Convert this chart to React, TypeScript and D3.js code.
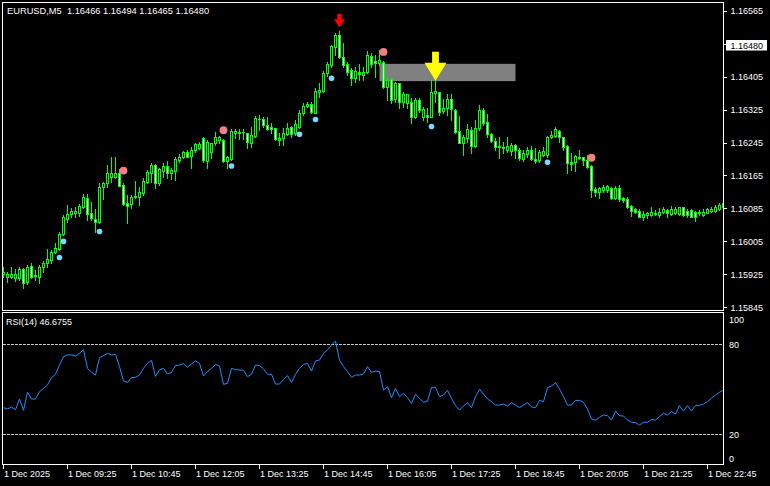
import React from 'react';
import * as d3 from 'd3';

const W = 770;
const H = 486;

const openP = [
1.15926,1.15918,1.15918,1.15915,1.15915,1.15937,1.15906,1.15945,1.15923,1.15919,
1.15943,1.15953,1.15960,1.15980,1.15986,1.16023,1.16060,1.16071,1.16073,1.16073,
1.16089,1.16111,1.16073,1.16059,1.16053,1.16138,1.16146,1.16162,1.16162,1.16170,
1.16142,1.16097,1.16095,1.16113,1.16113,1.16123,1.16150,1.16172,1.16190,1.16146,
1.16176,1.16188,1.16170,1.16177,1.16203,1.16209,1.16221,1.16213,1.16227,1.16232,
1.16257,1.16200,1.16223,1.16243,1.16251,1.16251,1.16201,1.16204,1.16267,1.16270,
1.16270,1.16267,1.16245,1.16262,1.16302,1.16302,1.16288,1.16282,1.16280,1.16251,
1.16255,1.16265,1.16282,1.16267,1.16283,1.16316,1.16334,1.16338,1.16317,1.16368,
1.16371,1.16413,1.16433,1.16478,1.16506,1.16453,1.16436,1.16421,1.16401,1.16417,
1.16409,1.16417,1.16455,1.16444,1.16439,1.16441,1.16379,1.16398,1.16350,1.16389,
1.16344,1.16342,1.16344,1.16308,1.16348,1.16308,1.16312,1.16308,1.16366,1.16367,
1.16322,1.16330,1.16350,1.16324,1.16273,1.16245,1.16255,1.16275,1.16236,1.16280,
1.16324,1.16294,1.16266,1.16249,1.16236,1.16231,1.16227,1.16225,1.16239,1.16227,
1.16205,1.16217,1.16228,1.16204,1.16203,1.16215,1.16215,1.16259,1.16261,1.16273,
1.16258,1.16236,1.16198,1.16198,1.16207,1.16209,1.16203,1.16188,1.16131,1.16124,
1.16130,1.16130,1.16135,1.16110,1.16135,1.16110,1.16107,1.16091,1.16083,1.16079,
1.16063,1.16069,1.16069,1.16071,1.16069,1.16077,1.16081,1.16071,1.16073,1.16071,
1.16088,1.16079,1.16081,1.16077,1.16073,1.16069,1.16075,1.16079,1.16079,1.16084,
1.16089];

const highP = [
1.15943,1.15931,1.15942,1.15937,1.15942,1.15941,1.15948,1.15952,1.15935,1.15948,
1.15957,1.15986,1.15984,1.16000,1.16028,1.16068,1.16093,1.16085,1.16089,1.16095,
1.16119,1.16119,1.16101,1.16083,1.16146,1.16148,1.16190,1.16209,1.16209,1.16180,
1.16146,1.16118,1.16118,1.16152,1.16136,1.16158,1.16178,1.16195,1.16193,1.16182,
1.16195,1.16200,1.16182,1.16211,1.16217,1.16225,1.16227,1.16235,1.16245,1.16247,
1.16259,1.16251,1.16245,1.16270,1.16261,1.16253,1.16212,1.16277,1.16277,1.16277,
1.16277,1.16269,1.16283,1.16309,1.16312,1.16308,1.16308,1.16293,1.16281,1.16267,
1.16280,1.16292,1.16285,1.16300,1.16324,1.16342,1.16344,1.16344,1.16377,1.16389,
1.16419,1.16441,1.16482,1.16510,1.16516,1.16486,1.16441,1.16425,1.16429,1.16436,
1.16429,1.16466,1.16462,1.16457,1.16470,1.16443,1.16401,1.16401,1.16393,1.16390,
1.16368,1.16364,1.16352,1.16352,1.16352,1.16332,1.16328,1.16397,1.16397,1.16368,
1.16350,1.16364,1.16363,1.16326,1.16309,1.16263,1.16290,1.16283,1.16300,1.16336,
1.16328,1.16314,1.16267,1.16255,1.16259,1.16247,1.16258,1.16243,1.16241,1.16231,
1.16228,1.16233,1.16236,1.16231,1.16227,1.16235,1.16261,1.16274,1.16282,1.16275,
1.16259,1.16239,1.16220,1.16215,1.16227,1.16211,1.16215,1.16190,1.16138,1.16138,
1.16142,1.16142,1.16138,1.16139,1.16142,1.16112,1.16112,1.16093,1.16085,1.16083,
1.16079,1.16077,1.16088,1.16081,1.16085,1.16088,1.16083,1.16091,1.16089,1.16089,
1.16089,1.16083,1.16083,1.16079,1.16081,1.16083,1.16085,1.16088,1.16093,1.16097,
1.16101];

const lowP = [
1.15919,1.15907,1.15917,1.15909,1.15911,1.15893,1.15901,1.15915,1.15911,1.15903,
1.15930,1.15943,1.15952,1.15976,1.15984,1.16020,1.16053,1.16065,1.16065,1.16067,
1.16085,1.16057,1.16057,1.16028,1.16050,1.16108,1.16138,1.16150,1.16158,1.16140,
1.16093,1.16050,1.16085,1.16110,1.16093,1.16118,1.16146,1.16150,1.16134,1.16142,
1.16162,1.16158,1.16156,1.16154,1.16198,1.16207,1.16209,1.16182,1.16223,1.16230,
1.16198,1.16182,1.16207,1.16239,1.16243,1.16198,1.16182,1.16203,1.16255,1.16253,
1.16253,1.16232,1.16235,1.16259,1.16275,1.16283,1.16275,1.16267,1.16251,1.16239,
1.16239,1.16263,1.16259,1.16263,1.16280,1.16312,1.16332,1.16316,1.16316,1.16356,
1.16368,1.16406,1.16429,1.16457,1.16449,1.16429,1.16409,1.16385,1.16393,1.16397,
1.16397,1.16413,1.16429,1.16405,1.16433,1.16377,1.16348,1.16340,1.16344,1.16328,
1.16332,1.16328,1.16292,1.16304,1.16320,1.16300,1.16296,1.16306,1.16344,1.16312,
1.16316,1.16312,1.16300,1.16267,1.16243,1.16215,1.16247,1.16220,1.16235,1.16275,
1.16288,1.16259,1.16247,1.16228,1.16207,1.16219,1.16223,1.16215,1.16207,1.16203,
1.16201,1.16211,1.16203,1.16196,1.16198,1.16212,1.16211,1.16255,1.16259,1.16247,
1.16227,1.16170,1.16178,1.16177,1.16204,1.16190,1.16182,1.16113,1.16115,1.16111,
1.16126,1.16126,1.16107,1.16107,1.16104,1.16101,1.16085,1.16067,1.16073,1.16063,
1.16058,1.16061,1.16067,1.16069,1.16065,1.16075,1.16065,1.16069,1.16071,1.16069,
1.16067,1.16065,1.16063,1.16055,1.16069,1.16067,1.16073,1.16077,1.16077,1.16081,
1.16088];

const closeP = [
1.15931,1.15925,1.15925,1.15925,1.15938,1.15903,1.15943,1.15919,1.15922,1.15943,
1.15952,1.15962,1.15980,1.15988,1.16022,1.16065,1.16071,1.16079,1.16078,1.16090,
1.16113,1.16071,1.16061,1.16053,1.16136,1.16146,1.16170,1.16170,1.16170,1.16140,
1.16095,1.16092,1.16112,1.16114,1.16125,1.16152,1.16173,1.16190,1.16146,1.16181,
1.16189,1.16170,1.16178,1.16205,1.16209,1.16221,1.16211,1.16228,1.16241,1.16241,
1.16203,1.16247,1.16243,1.16258,1.16258,1.16200,1.16209,1.16273,1.16273,1.16269,
1.16271,1.16247,1.16263,1.16304,1.16303,1.16288,1.16277,1.16278,1.16254,1.16255,
1.16267,1.16281,1.16265,1.16290,1.16316,1.16334,1.16338,1.16320,1.16371,1.16372,
1.16413,1.16436,1.16479,1.16506,1.16452,1.16433,1.16417,1.16401,1.16419,1.16411,
1.16417,1.16457,1.16436,1.16439,1.16445,1.16379,1.16397,1.16348,1.16389,1.16344,
1.16362,1.16362,1.16308,1.16348,1.16324,1.16326,1.16308,1.16368,1.16370,1.16320,
1.16330,1.16350,1.16326,1.16271,1.16245,1.16258,1.16277,1.16236,1.16280,1.16324,
1.16292,1.16266,1.16249,1.16233,1.16233,1.16235,1.16236,1.16239,1.16227,1.16207,
1.16220,1.16228,1.16204,1.16201,1.16223,1.16225,1.16258,1.16263,1.16277,1.16258,
1.16235,1.16196,1.16194,1.16212,1.16211,1.16203,1.16186,1.16130,1.16126,1.16134,
1.16138,1.16139,1.16110,1.16135,1.16107,1.16105,1.16088,1.16079,1.16077,1.16065,
1.16071,1.16073,1.16077,1.16075,1.16077,1.16083,1.16073,1.16083,1.16084,1.16088,
1.16069,1.16069,1.16065,1.16065,1.16077,1.16077,1.16083,1.16083,1.16088,1.16093,
1.16099];

const rsiVals = [
37.8,36.9,38.2,36.4,43.5,36.0,48.0,43.5,43.5,48.4,
50.6,52.9,57.8,60.0,66.2,71.8,72.9,72.9,72.2,74.0,
76.4,64.0,61.3,59.5,71.1,72.4,74.0,72.9,73.3,65.1,
55.5,54.6,57.8,58.0,59.5,64.0,67.3,69.3,58.6,62.9,
64.0,60.2,61.3,65.8,66.2,67.1,64.6,66.9,68.9,67.3,
58.9,61.8,64.0,66.6,65.5,53.3,54.0,64.0,63.1,62.9,
62.7,58.4,60.0,66.2,65.8,63.5,60.0,60.0,53.5,53.5,
56.6,59.1,54.6,60.0,64.0,66.6,67.3,62.2,68.9,69.5,
74.0,76.2,79.5,82.2,69.5,65.1,61.8,58.0,59.5,59.5,
60.2,65.1,61.3,62.2,61.8,49.5,51.8,44.4,50.6,45.1,
47.3,44.4,40.6,46.6,44.0,41.3,42.2,51.3,51.3,45.1,
46.2,49.3,44.0,39.1,36.2,38.9,41.1,37.8,45.1,50.0,
46.8,43.5,41.8,39.5,39.5,40.2,38.9,41.1,39.5,37.8,
39.5,41.1,38.2,37.8,42.6,41.8,51.1,52.2,54.4,50.2,
45.1,39.5,39.5,42.6,42.6,41.3,36.9,30.2,29.5,31.3,
32.9,32.4,29.5,35.5,32.4,32.2,29.5,28.0,27.8,26.2,
28.0,28.0,30.0,29.5,31.8,34.0,32.9,35.1,33.5,39.1,
35.5,39.1,35.5,39.3,39.3,40.2,41.8,44.0,46.2,48.0,
49.5];

const timeLabelBars = [0, 16, 32, 48, 64, 80, 96, 112, 128, 144, 160, 176];
const timeLabels = [
  '1 Dec 2025', '1 Dec 09:25', '1 Dec 10:45', '1 Dec 12:05', '1 Dec 13:25', '1 Dec 14:45',
  '1 Dec 16:05', '1 Dec 17:25', '1 Dec 18:45', '1 Dec 20:05', '1 Dec 21:25', '1 Dec 22:45',
];
const priceTicks = [1.16565, 1.16485, 1.16405, 1.16325, 1.16245, 1.16165, 1.16085, 1.16005, 1.15925, 1.15845];
const currentPrice = 1.1648;
const rsiLevels = [80, 20];
const rsiAxisValues = [100, 80, 20, 0];

const buyBars = [14, 15, 24, 57, 74, 78, 82, 107, 136];
const buyPrices = [1.15966, 1.16005, 1.16029, 1.16188, 1.16265, 1.16301, 1.16401, 1.16284, 1.16197];
const sellBars = [30, 55, 95, 147];
const sellPrices = [1.16177, 1.16275, 1.16465, 1.16208];
const arrowBars = [84, 108];
const arrowTips = [1.16525, 1.16395];
const zoneBars = [94, 128];
const zonePrices = [1.16436, 1.16394];

const titleText = 'EURUSD,M5  1.16466 1.16494 1.16465 1.16480';
const rsiTitle = 'RSI(14) 46.6755';

const FONT = '"Liberation Sans", Arial, sans-serif';
const LIME = '#00ff00';

export default function App() {
  const x = d3.scaleLinear().domain([0, 180]).range([3, 723]);
  const y = d3.scaleLinear().domain([1.15845, 1.16565]).range([307.3, 10.7]);
  const yr = d3.scaleLinear().domain([0, 100]).range([464.3, 314.3]);

  const cx = (i: number) => Math.round(x(i));

  const candles = openP.map((o, i) => {
    const c = closeP[i];
    const h = Math.max(highP[i], o, c);
    const l = Math.min(lowP[i], o, c);
    const xc = cx(i);
    const top = Math.round(y(Math.max(o, c)));
    const bot = Math.round(y(Math.min(o, c)));
    const hy = Math.round(y(h));
    const ly = Math.round(y(l));
    const bull = c >= o;
    const els: any[] = [];
    els.push(<line key="w" x1={xc + 0.5} x2={xc + 0.5} y1={hy} y2={ly + 1} stroke={LIME} strokeWidth={1} />);
    if (bot - top <= 1) {
      els.push(<rect key="b" x={xc - 1} y={top} width={3} height={bot - top + 1} fill={LIME} />);
    } else {
      els.push(
        <rect key="b" x={xc - 0.5} y={top + 0.5} width={2} height={bot - top}
          fill={bull ? '#000000' : '#ffffff'} stroke={LIME} strokeWidth={1} />
      );
    }
    return <g key={i}>{els}</g>;
  });

  const rsiLine = d3.line<number>()
    .x((_, i) => cx(i) + 0.5)
    .y((v) => yr(v))(rsiVals) || '';

  const downArrow = (tx: number, ty: number, hw: number, hh: number, sw: number, sh: number) =>
    `M${tx},${ty} L${tx - hw},${ty - hh} L${tx - sw},${ty - hh} L${tx - sw},${ty - hh - sh} ` +
    `L${tx + sw},${ty - hh - sh} L${tx + sw},${ty - hh} L${tx + hw},${ty - hh} Z`;

  const curY = y(currentPrice);
  // labels hidden under the current-price box in the reference
  const visibleTicks = priceTicks.filter((t) => Math.abs(y(t) - curY) > 7);

  return (
    <svg width={W} height={H} style={{ position: 'absolute', left: 0, top: 0, display: 'block' }}
      fontFamily={FONT}>
      <defs>
        <clipPath id="mainClip"><rect x={3} y={3} width={720} height={307} /></clipPath>
        <clipPath id="rsiClip"><rect x={3} y={313} width={720} height={151} /></clipPath>
      </defs>
      <rect x={0} y={0} width={W} height={H} fill="#000000" />

      {/* main panel */}
      <g clipPath="url(#mainClip)">
        <rect x={cx(zoneBars[0]) + 0.5} y={y(zonePrices[0])}
          width={cx(zoneBars[1]) - cx(zoneBars[0])} height={y(zonePrices[1]) - y(zonePrices[0])}
          fill="#808080" />
        <g shapeRendering="crispEdges">{candles}</g>
        {buyBars.map((b, i) => (
          <circle key={'b' + i} cx={cx(b) + 0.5} cy={y(buyPrices[i])} r={2.8} fill="#7fd6ff" />
        ))}
        {sellBars.map((b, i) => (
          <circle key={'s' + i} cx={cx(b) + 0.5} cy={y(sellPrices[i])} r={3.9} fill="#f47f7f" />
        ))}
        <path d={downArrow(cx(arrowBars[0]) + 0.5, y(arrowTips[0]), 5.5, 8, 2.2, 5.5)} fill="#ff0000" />
        <path d={downArrow(cx(arrowBars[1]) + 0.5, y(arrowTips[1]), 11, 18, 3.4, 11)} fill="#ffff00" />
      </g>
      <text x={7} y={14.3} fill="#ffffff" fontSize={9.3} style={{ whiteSpace: 'pre' }}>{titleText}</text>
      <rect x={2.5} y={2.5} width={721} height={308} fill="none" stroke="#ffffff" strokeWidth={1} />

      {/* price axis */}
      <g shapeRendering="crispEdges">
        {priceTicks.map((t) => (
          <line key={'pt' + t} x1={724} x2={727} y1={Math.round(y(t)) + 0.5} y2={Math.round(y(t)) + 0.5} stroke="#ffffff" />
        ))}
      </g>
      {visibleTicks.map((t) => (
        <text key={'pl' + t} x={730.5} y={y(t) + 3.3} fill="#ffffff" fontSize={9}>{t.toFixed(5)}</text>
      ))}
      <rect x={726} y={curY - 5.7} width={41} height={10.5} fill="#ffffff" />
      <text x={730.5} y={curY + 3.0} fill="#000000" fontSize={9}>{currentPrice.toFixed(5)}</text>

      {/* RSI panel */}
      <g clipPath="url(#rsiClip)">
        {rsiLevels.map((lv) => (
          <line key={'lv' + lv} x1={3} x2={723} y1={Math.round(yr(lv)) + 0.5} y2={Math.round(yr(lv)) + 0.5}
            stroke="#c8c8c8" strokeWidth={1} strokeDasharray="2.5,1.5" shapeRendering="crispEdges" />
        ))}
        <path d={rsiLine} fill="none" stroke="#1e90ff" strokeWidth={1} />
      </g>
      <text x={6} y={325} fill="#ffffff" fontSize={9}>{rsiTitle}</text>
      <rect x={2.5} y={312.5} width={721} height={152} fill="none" stroke="#ffffff" strokeWidth={1} />
      {rsiAxisValues.map((v) => (
        <text key={'ra' + v} x={729} y={Math.min(Math.max(yr(v) + 3.3, 322.7), 461.7)} fill="#ffffff" fontSize={9}>{v}</text>
      ))}

      {/* time axis */}
      <g shapeRendering="crispEdges">
        {timeLabelBars.map((b) => (
          <line key={'tt' + b} x1={cx(b) + 0.5} x2={cx(b) + 0.5} y1={465} y2={469} stroke="#ffffff" />
        ))}
      </g>
      {timeLabelBars.map((b, i) => (
        <text key={'tl' + b} x={cx(b) + 1} y={477} fill="#ffffff" fontSize={9}>{timeLabels[i]}</text>
      ))}
    </svg>
  );
}
